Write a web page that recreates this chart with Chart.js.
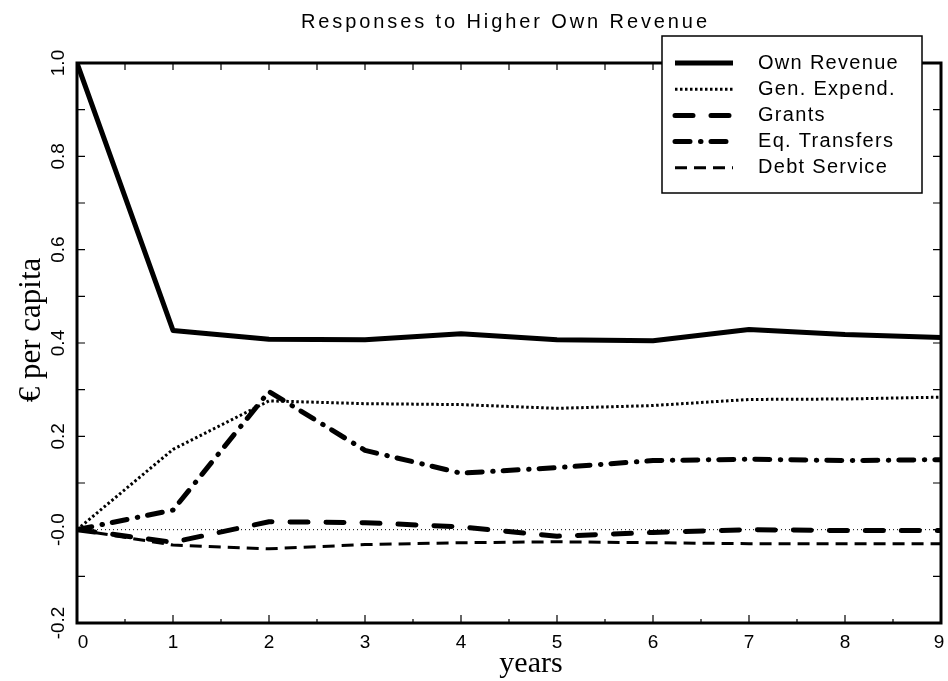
<!DOCTYPE html>
<html>
<head>
<meta charset="utf-8">
<script src="https://cdn.jsdelivr.net/npm/chart.js@4.4.1/dist/chart.umd.min.js"></script>
<style>
  html, body { margin: 0; padding: 0; background: #fff; }
  #wrap { width: 948px; height: 681px; }
</style>
</head>
<body>
<div id="wrap"><canvas id="chart" width="948" height="681"></canvas></div>
<script>
  const years = [0, 1, 2, 3, 4, 5, 6, 7, 8, 9];
  const ownRevenue = [1.0, 0.427, 0.408, 0.407, 0.420, 0.407, 0.405, 0.429, 0.418, 0.412];
  const genExpend = [0.0, 0.172, 0.276, 0.270, 0.268, 0.260, 0.266, 0.279, 0.280, 0.284];
  const grants = [0.0, -0.027, 0.017, 0.015, 0.006, -0.014, -0.006, 0.0, -0.002, -0.002];
  const eqTransfers = [0.0, 0.042, 0.296, 0.170, 0.121, 0.133, 0.148, 0.151, 0.148, 0.150];
  const debtService = [0.0, -0.033, -0.041, -0.032, -0.028, -0.026, -0.028, -0.030, -0.030, -0.030];

  const seriesNames = ["Own Revenue", "Gen. Expend.", "Grants", "Eq. Transfers", "Debt Service"];
  const xTickLabels = ["0", "1", "2", "3", "4", "5", "6", "7", "8", "9"];
  const yTickValues = [-0.2, 0.0, 0.2, 0.4, 0.6, 0.8, 1.0];
  const yTickLabels = ["-0.2", "-0.0", "0.2", "0.4", "0.6", "0.8", "1.0"];

  const titleText = "Responses to Higher Own Revenue";
  const xTitle = "years";
  const yTitle = "\u20AC per capita";

  const sans = "'Liberation Sans', Arial, sans-serif";
  const serif = "'Liberation Serif', 'Times New Roman', serif";

  const points = (ys) => years.map((x, i) => ({ x, y: ys[i] }));

  const lineStyle = [
    { borderWidth: 5, borderDash: [], borderCapStyle: "butt" },
    { borderWidth: 3, borderDash: [2.5, 2.5], borderCapStyle: "butt" },
    { borderWidth: 5, borderDash: [18, 18], borderCapStyle: "round" },
    { borderWidth: 5, borderDash: [15, 10.5, 0.5, 10], borderCapStyle: "round" },
    { borderWidth: 3, borderDash: [12, 7], borderCapStyle: "butt" },
  ];

  const datasets = [ownRevenue, genExpend, grants, eqTransfers, debtService].map((ys, i) => ({
    label: seriesNames[i],
    data: points(ys),
    borderColor: "#000",
    backgroundColor: "#000",
    pointRadius: 0,
    tension: 0,
    fill: false,
    borderJoinStyle: "round",
    ...lineStyle[i],
  }));

  function spaced(ctx, text, x, y, width) {
    ctx.letterSpacing = "0px";
    const w = ctx.measureText(text).width;
    const gap = text.length > 1 ? (width - w) / (text.length - 1) : 0;
    ctx.letterSpacing = gap + "px";
    ctx.textAlign = "left";
    ctx.fillText(text, x - width / 2, y);
    ctx.letterSpacing = "0px";
  }

  const frame = {
    id: "frame",
    beforeDatasetsDraw(chart) {
      const { ctx, chartArea: a, scales: { y } } = chart;
      const y0 = y.getPixelForValue(0);
      ctx.save();
      ctx.strokeStyle = "#000";
      ctx.lineWidth = 1;
      ctx.setLineDash([1, 3]);
      ctx.beginPath();
      ctx.moveTo(a.left, y0);
      ctx.lineTo(a.right, y0);
      ctx.stroke();
      ctx.restore();
    },
    afterDatasetsDraw(chart) {
      const { ctx, chartArea: a, scales: { x, y } } = chart;
      ctx.save();
      ctx.strokeStyle = "#000";
      ctx.fillStyle = "#000";

      // axes box
      ctx.lineWidth = 3;
      ctx.strokeRect(a.left, a.top, a.right - a.left, a.bottom - a.top);

      // inward ticks
      ctx.lineWidth = 1.2;
      ctx.beginPath();
      for (let v = 0; v <= 9.001; v += 0.5) {
        const px = x.getPixelForValue(v);
        const len = Math.abs(v - Math.round(v)) < 0.01 ? 8 : 4;
        ctx.moveTo(px, a.bottom);
        ctx.lineTo(px, a.bottom - len);
        ctx.moveTo(px, a.top);
        ctx.lineTo(px, a.top + 7);
      }
      for (let k = -2; k <= 10; k++) {
        const py = y.getPixelForValue(k / 10);
        ctx.moveTo(a.left, py);
        ctx.lineTo(a.left + 8, py);
        ctx.moveTo(a.right, py);
        ctx.lineTo(a.right - 8, py);
      }
      ctx.stroke();

      // x tick labels
      ctx.font = "19px " + sans;
      ctx.textAlign = "center";
      ctx.textBaseline = "alphabetic";
      xTickLabels.forEach((t, i) => {
        let px = x.getPixelForValue(years[i]);
        if (i === 0) px += 6;
        if (i === xTickLabels.length - 1) px -= 2;
        ctx.fillText(t, px, 648);
      });

      // y tick labels, rotated
      yTickValues.forEach((v, i) => {
        const py = y.getPixelForValue(v);
        ctx.save();
        ctx.translate(64, py);
        ctx.rotate(-Math.PI / 2);
        ctx.font = "19px " + sans;
        ctx.textAlign = "center";
        ctx.fillText(yTickLabels[i], 0, 0);
        ctx.restore();
      });

      // axis titles
      ctx.font = "30px " + serif;
      ctx.textAlign = "center";
      ctx.fillText(xTitle, 531, 672);
      ctx.save();
      ctx.translate(40, 330);
      ctx.rotate(-Math.PI / 2);
      ctx.font = "31px " + serif;
      ctx.textAlign = "center";
      ctx.fillText(yTitle, 0, 0);
      ctx.restore();

      // title
      ctx.font = "20px " + sans;
      spaced(ctx, titleText, 504, 28, 406);

      // legend
      const box = { l: 662, t: 36, r: 922, b: 193 };
      ctx.fillStyle = "#fff";
      ctx.fillRect(box.l, box.t, box.r - box.l, box.b - box.t);
      ctx.lineWidth = 1.5;
      ctx.strokeRect(box.l, box.t, box.r - box.l, box.b - box.t);
      ctx.fillStyle = "#000";
      chart.data.datasets.forEach((ds, i) => {
        const ry = 63 + i * 26.2;
        ctx.save();
        ctx.lineWidth = ds.borderWidth;
        ctx.lineCap = ds.borderCapStyle;
        ctx.setLineDash(ds.borderDash);
        ctx.beginPath();
        ctx.moveTo(675, ry);
        ctx.lineTo(733, ry);
        ctx.stroke();
        ctx.restore();
        ctx.font = "20px " + sans;
        ctx.textAlign = "left";
        ctx.textBaseline = "middle";
        ctx.letterSpacing = "1.3px";
        ctx.fillText(ds.label, 758, ry);
        ctx.letterSpacing = "0px";
      });
      ctx.restore();
    },
  };

  new Chart(document.getElementById("chart"), {
    type: "line",
    data: { datasets },
    options: {
      responsive: false,
      animation: false,
      devicePixelRatio: 1,
      layout: { padding: { left: 77, right: 7, top: 63, bottom: 58 } },
      plugins: { legend: { display: false }, title: { display: false }, tooltip: { enabled: false } },
      scales: {
        x: { type: "linear", min: 0, max: 9, display: false },
        y: { type: "linear", min: -0.2, max: 1.0, display: false },
      },
    },
    plugins: [frame],
  });
</script>
</body>
</html>
